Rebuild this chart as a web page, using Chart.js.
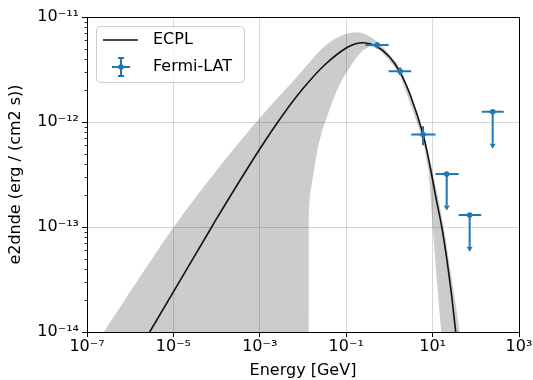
<!DOCTYPE html>
<html>
<head>
<meta charset="utf-8">
<script src="https://cdn.jsdelivr.net/npm/chart.js@4.4.1/dist/chart.umd.min.js"></script>
<style>
  html, body { margin: 0; padding: 0; background: #fff; }
</style>
</head>
<body>
<canvas id="c" width="533" height="380"></canvas>
<script>
var xTicks = [1e-7, 1e-5, 1e-3, 1e-1, 1e1, 1e3];
var yTicks = [1e-14, 1e-13, 1e-12, 1e-11];

// ECPL model curve (GeV, erg / (cm2 s))
var ecplEnergy = [1e-6, 2.83e-6, 7.7e-5, 1e-4, 1e-3, 3.16e-3, 1e-2, 3.16e-2, 0.1, 0.158, 0.251, 0.5,
  1.0, 1.76, 3.16, 6.0, 7.3, 9.0, 11.8, 16.3, 21.2, 27.7, 34.3, 40.3];
var ecplFlux = [4.9e-15, 1.0e-14, 1.0e-13, 1.2e-13, 5.53e-13, 1.117e-12, 2.08e-12, 3.49e-12, 5.07e-12, 5.53e-12, 5.69e-12, 5.27e-12,
  4.18e-12, 2.98e-12, 1.73e-12, 7.64e-13, 5.42e-13, 3.55e-13, 1.95e-13, 1.0e-13, 5.03e-14, 2.19e-14, 1.0e-14, 5.3e-15];

// error band, upper and lower edges
var bandUpEnergy = [1e-8, 2.44e-7, 1.02e-5, 8.6e-5, 8.3e-4, 7.1e-3, 4.15e-2, 0.175, 0.31, 0.54, 0.95, 1.73, 5.9, 10.05, 18.1, 26.2, 42.4, 60];
var bandUp = [1.4e-15, 1e-14, 1e-13, 3.2e-13, 1.0e-12, 2.67e-12, 5.74e-12, 7.15e-12, 6.7e-12, 5.74e-12, 4.5e-12, 3.25e-12, 8.3e-13, 3.32e-13, 9.9e-14, 3.7e-14, 1e-14, 3e-15];
var bandLoEnergy = [1e-8, 1.354e-2, 1.355e-2, 1.445e-2, 1.69e-2, 1.88e-2, 2.21e-2, 2.74e-2, 3.57e-2, 4.66e-2, 6.09e-2, 8.39e-2,
  0.122, 0.168, 0.244, 0.354, 0.54, 0.95, 1.73, 5.9, 8.13, 10.05, 12.1, 15.8, 20, 60];
var bandLo = [1e-16, 1e-16, 1.29e-13, 2.0e-13, 2.97e-13, 3.87e-13, 5.74e-13, 8.15e-13, 1.11e-12, 1.51e-12, 2.0e-12, 2.61e-12,
  3.32e-12, 4.04e-12, 4.82e-12, 5.26e-12, 5.0e-12, 3.95e-12, 2.85e-12, 6.9e-13, 3.32e-13, 9.9e-14, 3.7e-14, 1e-14, 1e-15, 1e-18];

// Fermi-LAT flux points and upper limits
var fermiE = [0.52, 1.76, 6.0, 21.2, 72, 246];
var fermiElo = [0.28, 0.96, 3.2, 11.7, 40, 137];
var fermiEhi = [0.96, 3.2, 11.7, 40, 133, 443];
var fermiFlux = [5.4e-12, 3.05e-12, 7.6e-13, 3.2e-13, 1.3e-13, 1.25e-12];
var fermiFluxLo = [5.0e-12, 2.8e-12, 6.0e-13, 1.6e-13, 6.5e-14, 6.2e-13];
var fermiFluxHi = [5.75e-12, 3.3e-12, 9.1e-13, null, null, null];
var fermiIsUL = [false, false, false, true, true, true];

var C0 = '#1f77b4';
var FONT = 'DejaVu Sans';

function xy(xs, ys) {
  return xs.map(function (x, i) { return { x: x, y: ys[i] }; });
}

function pow10Label(v) {
  var sup = { '-': '\u207B', '0': '\u2070', '1': '\u00B9', '2': '\u00B2', '3': '\u00B3', '4': '\u2074',
    '5': '\u2075', '6': '\u2076', '7': '\u2077', '8': '\u2078', '9': '\u2079' };
  var e = String(Math.round(Math.log10(v)));
  return '10' + e.split('').map(function (c) { return sup[c]; }).join('');
}

var extrasPlugin = {
  id: 'extras',
  afterDatasetsDraw: function (chart) {
    var xs = chart.scales.x, ys = chart.scales.y, ctx = chart.ctx, ca = chart.chartArea;
    ctx.save();
    // error bars and upper limits
    ctx.strokeStyle = C0;
    ctx.fillStyle = C0;
    ctx.lineWidth = 2;
    for (var i = 0; i < fermiE.length; i++) {
      var px = xs.getPixelForValue(fermiE[i]);
      var py = ys.getPixelForValue(fermiFlux[i]);
      ctx.beginPath();
      ctx.moveTo(xs.getPixelForValue(fermiElo[i]), py);
      ctx.lineTo(xs.getPixelForValue(fermiEhi[i]), py);
      var pb = ys.getPixelForValue(fermiFluxLo[i]);
      if (fermiIsUL[i]) {
        ctx.moveTo(px, py);
        ctx.lineTo(px, pb);
      } else {
        ctx.moveTo(px, ys.getPixelForValue(fermiFluxHi[i]));
        ctx.lineTo(px, pb);
      }
      ctx.stroke();
      if (fermiIsUL[i]) {
        ctx.beginPath();
        ctx.moveTo(px - 3, pb);
        ctx.lineTo(px + 3, pb);
        ctx.lineTo(px, pb + 5);
        ctx.closePath();
        ctx.fill();
      }
    }
    // frame
    ctx.strokeStyle = '#000';
    ctx.lineWidth = 1;
    var l = Math.round(ca.left), t = Math.round(ca.top), r = Math.round(ca.right), b = Math.round(ca.bottom);
    ctx.strokeRect(l + 0.5, t + 0.5, r - l, b - t);
    // minor ticks on y
    ctx.lineWidth = 0.8;
    ctx.beginPath();
    for (var d = -14; d < -11; d++) {
      for (var k = 2; k < 10; k++) {
        var y = Math.round(ys.getPixelForValue(k * Math.pow(10, d))) + 0.5;
        ctx.moveTo(l + 0.5, y);
        ctx.lineTo(l + 0.5 - 3, y);
      }
    }
    ctx.stroke();
    ctx.restore();
  },
  afterDraw: function (chart) {
    var ctx = chart.ctx;
    ctx.save();
    // legend box
    var bx = 96.5, by = 26.5, bw = 148, bh = 56, r = 4;
    ctx.beginPath();
    ctx.moveTo(bx + r, by);
    ctx.lineTo(bx + bw - r, by);
    ctx.arcTo(bx + bw, by, bx + bw, by + r, r);
    ctx.lineTo(bx + bw, by + bh - r);
    ctx.arcTo(bx + bw, by + bh, bx + bw - r, by + bh, r);
    ctx.lineTo(bx + r, by + bh);
    ctx.arcTo(bx, by + bh, bx, by + bh - r, r);
    ctx.lineTo(bx, by + r);
    ctx.arcTo(bx, by, bx + r, by, r);
    ctx.closePath();
    ctx.fillStyle = 'rgba(255,255,255,0.8)';
    ctx.fill();
    ctx.strokeStyle = '#cccccc';
    ctx.lineWidth = 1;
    ctx.stroke();
    // ECPL entry
    ctx.strokeStyle = '#111';
    ctx.lineWidth = 1.6;
    ctx.beginPath();
    ctx.moveTo(103, 40);
    ctx.lineTo(138, 40);
    ctx.stroke();
    // Fermi-LAT entry
    ctx.strokeStyle = C0;
    ctx.fillStyle = C0;
    ctx.lineWidth = 2;
    ctx.beginPath();
    ctx.moveTo(112, 67); ctx.lineTo(130, 67);
    ctx.moveTo(121, 58); ctx.lineTo(121, 76);
    ctx.moveTo(118, 58); ctx.lineTo(124, 58);
    ctx.moveTo(118, 76); ctx.lineTo(124, 76);
    ctx.stroke();
    ctx.beginPath();
    ctx.arc(121, 67, 2.8, 0, Math.PI * 2);
    ctx.fill();
    ctx.fillStyle = '#000';
    ctx.font = '16px "' + FONT + '"';
    ctx.textBaseline = 'middle';
    ctx.textAlign = 'left';
    ctx.fillText('ECPL', 153, 40);
    ctx.fillText('Fermi-LAT', 153, 67);
    ctx.restore();
  }
};

var gridOpts = { color: 'rgba(176,176,176,0.5)', tickColor: '#000', tickLength: 5, lineWidth: 1 };

new Chart(document.getElementById('c'), {
  type: 'line',
  data: {
    datasets: [
      {
        label: 'Fermi-LAT',
        data: xy(fermiE, fermiFlux),
        showLine: false,
        pointRadius: 2.8,
        pointBackgroundColor: C0,
        pointBorderWidth: 0,
        order: 0
      },
      {
        label: 'ECPL',
        data: xy(ecplEnergy, ecplFlux),
        borderColor: '#111',
        borderWidth: 1.6,
        pointRadius: 0,
        cubicInterpolationMode: 'monotone',
        fill: false,
        order: 1
      },
      {
        label: 'band upper',
        data: xy(bandUpEnergy, bandUp),
        borderWidth: 0,
        borderColor: 'rgba(0,0,0,0)',
        backgroundColor: 'rgba(0,0,0,0.2)',
        pointRadius: 0,
        cubicInterpolationMode: 'monotone',
        fill: 3,
        order: 2
      },
      {
        label: 'band lower',
        data: xy(bandLoEnergy, bandLo),
        borderWidth: 0,
        borderColor: 'rgba(0,0,0,0)',
        pointRadius: 0,
        tension: 0,
        fill: false,
        order: 3
      }
    ]
  },
  options: {
    responsive: false,
    animation: false,
    devicePixelRatio: 1,
    layout: { padding: { top: 17, right: 14, left: 0, bottom: 0 } },
    elements: { line: { capBezierPoints: false } },
    plugins: { legend: { display: false }, tooltip: { enabled: false } },
    scales: {
      x: {
        type: 'logarithmic',
        min: 1e-7,
        max: 1e3,
        afterBuildTicks: function (s) { s.ticks = xTicks.map(function (v) { return { value: v }; }); },
        afterFit: function (s) { s.height = 48; },
        ticks: {
          callback: pow10Label, autoSkip: false, maxRotation: 0, minRotation: 0,
          color: '#000', padding: 0, font: { family: FONT, size: 16 }
        },
        grid: gridOpts,
        border: { display: false },
        title: {
          display: true, text: 'Energy [GeV]', color: '#000',
          font: { family: FONT, size: 16 }, padding: { top: 0, bottom: 0 }
        }
      },
      y: {
        type: 'logarithmic',
        min: 1e-14,
        max: 1e-11,
        afterBuildTicks: function (s) { s.ticks = yTicks.map(function (v) { return { value: v }; }); },
        afterFit: function (s) { s.width = 87; },
        ticks: {
          callback: pow10Label, autoSkip: false,
          color: '#000', padding: 3, font: { family: FONT, size: 16 }
        },
        grid: gridOpts,
        border: { display: false },
        title: {
          display: true, text: 'e2dnde (erg / (cm2 s))', color: '#000',
          font: { family: FONT, size: 16 }, padding: { top: 6, bottom: 0 }
        }
      }
    }
  },
  plugins: [extrasPlugin]
});
</script>
</body>
</html>
